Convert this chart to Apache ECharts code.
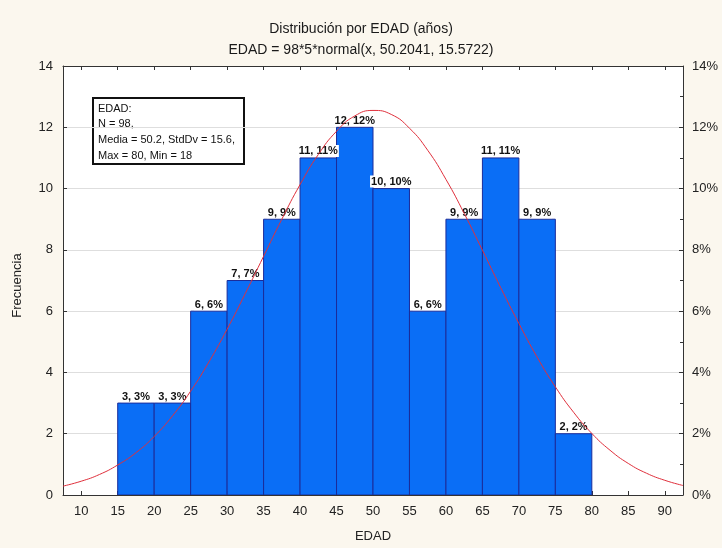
<!DOCTYPE html>
<html>
<head>
<meta charset="utf-8">
<title>Distribución por EDAD</title>
<script src="https://cdn.jsdelivr.net/npm/echarts@6/dist/echarts.min.js"></script>
<style>
  html, body { margin: 0; padding: 0; background: #fbf7ee; }
  #chart { width: 722px; height: 548px; }
</style>
</head>
<body>
<div id="chart"></div>
<script>
// Histogram bins (age classes, lower and upper bounds) and their frequencies
const binLower = [15, 20, 25, 30, 35, 40, 45, 50, 55, 60, 65, 70, 75];
const binUpper = [20, 25, 30, 35, 40, 45, 50, 55, 60, 65, 70, 75, 80];
const counts   = [3, 3, 6, 7, 9, 11, 12, 10, 6, 9, 11, 9, 2];
const totalN = 98;

// Fitted normal curve, sampled along the age axis
const curveX = [7.5, 10, 12.5, 15, 17.5, 20, 22.5, 25, 27.5, 30, 32.5, 35, 37.5, 40,
                42.5, 45, 47.5, 50, 52.5, 55, 57.5, 60, 62.5, 65, 67.5, 70, 72.5, 75,
                77.5, 80, 82.5, 85, 87.5, 90, 92.5];
const curveY = [0.29, 0.45, 0.67, 0.98, 1.38, 1.91, 2.58, 3.39, 4.34, 5.41, 6.58, 7.79, 9.00, 10.13,
                11.11, 11.87, 12.37, 12.55, 12.42, 11.97, 11.25, 10.30, 9.19, 7.99, 6.77, 5.60, 4.50, 3.53,
                2.70, 2.01, 1.46, 1.03, 0.71, 0.48, 0.31];

// Axis tick values
const xTicks = [10, 15, 20, 25, 30, 35, 40, 45, 50, 55, 60, 65, 70, 75, 80, 85, 90];
const statsLines = ['EDAD:', 'N = 98,', 'Media = 50.2, StdDv = 15.6,', 'Max = 80, Min = 18'];

const FONT = "'Liberation Sans', Arial, sans-serif";

const histData = binLower.map((lo, i) => [lo, binUpper[i], counts[i]]);
const curveData = curveX.map((x, i) => [x, curveY[i]]);

const chart = echarts.init(document.getElementById('chart'), null, { renderer: 'canvas' });

const option = {
  backgroundColor: '#fbf7ee',
  animation: false,
  title: [
    { text: 'Distribución por EDAD (años)', left: 'center', top: 17,
      textStyle: { fontFamily: FONT, fontSize: 14, fontWeight: 'normal', color: '#1a1a1a' } },
    { text: 'EDAD = 98*5*normal(x, 50.2041, 15.5722)', left: 'center', top: 38,
      textStyle: { fontFamily: FONT, fontSize: 14, fontWeight: 'normal', color: '#1a1a1a' } }
  ],
  grid: {
    left: 63, right: 39, top: 66, bottom: 53,
    show: true, backgroundColor: '#ffffff', borderWidth: 0
  },
  xAxis: [
    {
      type: 'value', position: 'bottom', min: 7.5, max: 92.5,
      name: 'EDAD', nameLocation: 'middle', nameGap: 35,
      nameTextStyle: { fontFamily: FONT, fontSize: 13, color: '#222' },
      axisLine: { show: true, onZero: false, lineStyle: { color: '#333', width: 1 } },
      axisTick: { show: true, inside: true, length: 4, customValues: xTicks, lineStyle: { color: '#333' } },
      axisLabel: { customValues: xTicks, fontFamily: FONT, fontSize: 13, color: '#222', margin: 10 },
      splitLine: { show: false }
    },
    {
      type: 'value', position: 'top', min: 7.5, max: 92.5,
      axisLine: { show: true, onZero: false, lineStyle: { color: '#333', width: 1 } },
      axisTick: { show: true, inside: true, length: 4, customValues: xTicks, lineStyle: { color: '#333' } },
      axisLabel: { show: false },
      splitLine: { show: false }
    }
  ],
  yAxis: [
    {
      type: 'value', position: 'left', min: 0, max: 14, interval: 2,
      name: 'Frecuencia', nameLocation: 'middle', nameGap: 39,
      nameTextStyle: { fontFamily: FONT, fontSize: 13, color: '#222', padding: [0, 10, 0, 0] },
      axisLine: { show: true, lineStyle: { color: '#333', width: 1 } },
      axisTick: { show: true, inside: true, length: 4, lineStyle: { color: '#333' } },
      axisLabel: { fontFamily: FONT, fontSize: 13, color: '#222', margin: 10 },
      splitLine: { show: true, lineStyle: { color: '#dedede', width: 1 } }
    },
    {
      type: 'value', position: 'right', min: 0, max: 14, interval: 2,
      axisLine: { show: true, lineStyle: { color: '#333', width: 1 } },
      axisTick: { show: true, inside: true, length: 4, lineStyle: { color: '#333' } },
      minorTick: { show: true, splitNumber: 2, length: 3, lineStyle: { color: '#333' } },
      axisLabel: { fontFamily: FONT, fontSize: 13, color: '#222', margin: 9, formatter: '{value}%' },
      splitLine: { show: false }
    }
  ],
  series: [
    {
      type: 'custom',
      name: 'EDAD',
      xAxisIndex: 0, yAxisIndex: 0,
      clip: true,
      z: 2,
      data: histData,
      encode: { x: [0, 1], y: 2 },
      renderItem: function (params, api) {
        const lo = api.value(0), hi = api.value(1), c = api.value(2);
        const topLeft = api.coord([lo, c]);
        const bottomRight = api.coord([hi, 0]);
        const pct = Math.round(c / totalN * 100);
        return {
          type: 'group',
          children: [
            {
              type: 'rect',
              shape: {
                x: topLeft[0], y: topLeft[1],
                width: bottomRight[0] - topLeft[0],
                height: bottomRight[1] - topLeft[1]
              },
              style: { fill: '#0a6ef6', stroke: '#1b2c9a', lineWidth: 1 }
            },
            {
              type: 'text',
              z2: 5,
              style: {
                text: c + ', ' + pct + '%',
                x: (topLeft[0] + bottomRight[0]) / 2,
                y: topLeft[1] - 1,
                align: 'center',
                verticalAlign: 'bottom',
                fontFamily: FONT, fontSize: 11, fontWeight: 'bold',
                fill: '#111',
                backgroundColor: '#ffffff',
                padding: [1, 1, 0, 1]
              }
            }
          ]
        };
      }
    },
    {
      type: 'line',
      name: 'normal',
      xAxisIndex: 0, yAxisIndex: 0,
      data: curveData,
      smooth: true,
      symbol: 'none',
      z: 5,
      lineStyle: { color: '#e0303c', width: 1 }
    }
  ],
  graphic: [
    {
      type: 'group',
      left: 92, top: 97,
      z: 10,
      children: [
        {
          type: 'rect',
          shape: { x: 0, y: 0, width: 151, height: 66 },
          style: { fill: '#ffffff', stroke: '#111', lineWidth: 2 }
        },
        {
          type: 'text',
          x: 5, y: 3,
          style: {
            text: statsLines.join('\n'),
            fontFamily: FONT, fontSize: 11, lineHeight: 15.6,
            fill: '#111'
          }
        }
      ]
    }
  ]
};

chart.setOption(option);
</script>
</body>
</html>
